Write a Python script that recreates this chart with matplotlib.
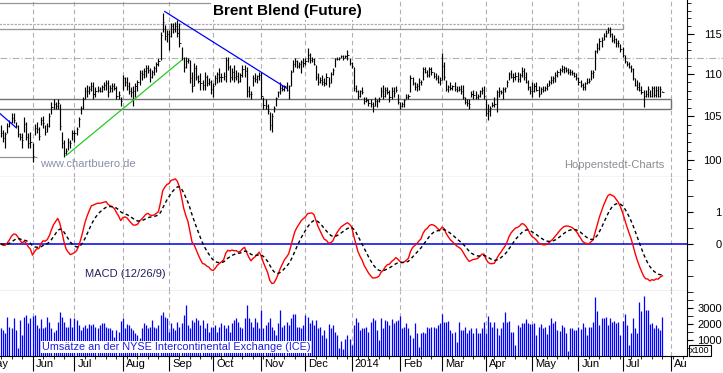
import numpy as np
import pandas as pd
import matplotlib
matplotlib.use("Agg")
import matplotlib.pyplot as plt
from matplotlib.transforms import Bbox, TransformedBbox, ScaledTranslation, blended_transform_factory

plt.rcParams['font.family'] = ['Liberation Sans', 'DejaVu Sans']

START = '2013-05-13'   # erster Handelstag im Chart (Montag)

# ── Tageskurse Brent (High / Low / Close), je Monat eine Zeile ──────────
hi = [
    104.0, 103.4, 103.2, 104.2, 104.5, 105.3, 105.3, 104.3, 104.0, 103.0, 103.0, 104.9, 104.3, 103.0, 103.2,
    101.9, 104.1, 104.3, 103.7, 104.9, 105.0, 104.0, 104.2, 105.3, 106.6, 107.0, 106.6, 107.0, 106.4, 103.2, 102.2, 101.4, 102.5, 102.2, 103.4,
    103.4, 103.7, 104.9, 106.2, 107.3, 108.4, 108.7, 108.5, 109.1, 109.1, 108.4, 108.5, 108.4, 108.7, 109.1, 109.3, 109.3, 108.7, 108.9, 108.9, 108.5, 107.9, 107.3,
    109.9, 109.6, 109.6, 109.1, 108.4, 108.5, 108.9, 109.3, 110.5, 110.5, 110.8, 111.1, 111.1, 110.8, 110.5, 111.0, 111.5, 112.0, 115.3, 117.7, 116.2, 115.5,
    115.5, 116.4, 116.4, 116.5, 116.8, 116.4, 113.4, 112.1, 112.1, 112.0, 111.7, 110.3, 111.4, 111.1, 109.9, 110.1, 109.3, 110.3, 109.9, 109.5, 109.3,
    108.9, 109.9, 110.3, 110.8, 110.1, 110.3, 112.1, 112.1, 111.1, 110.8, 111.1, 110.5, 110.3, 110.1, 111.1, 111.1, 110.9, 108.5, 107.9, 109.9, 110.1, 109.9, 110.3,
    110.3, 107.3, 107.0, 106.4, 105.5, 105.3, 106.2, 107.3, 107.9, 109.1, 108.7, 108.7, 109.1, 108.7, 110.5, 111.7, 112.0, 111.7, 111.5, 111.7, 112.0,
    112.0, 113.2, 112.6, 112.1, 112.0, 111.1, 110.1, 109.6, 109.9, 109.5, 110.1, 109.6, 110.3, 110.8, 112.0, 112.1, 112.1, 112.3, 112.3, 112.3, 113.0, 112.0,
    111.5, 110.9, 108.7, 108.1, 108.1, 108.4, 107.3, 107.3, 107.0, 107.0, 106.7, 107.2, 107.0, 107.2, 108.4, 108.7, 108.4, 108.4, 108.1, 108.4, 108.4, 108.5, 107.6,
    106.6, 106.6, 107.0, 107.6, 107.6, 109.9, 109.6, 109.1, 108.9, 109.5, 109.3, 110.9, 110.9, 110.5, 110.9, 110.9, 110.3, 110.1, 109.9, 109.6,
    112.6, 111.5, 109.3, 108.7, 109.1, 108.7, 109.1, 108.5, 108.5, 108.7, 108.7, 107.3, 107.0, 107.0, 107.9, 108.1, 107.9, 107.6, 108.1, 108.4, 108.5,
    107.0, 106.4, 106.2, 106.6, 107.3, 108.1, 108.4, 108.1, 108.4, 108.4, 109.3, 110.3, 110.5, 110.1, 110.3, 110.3, 110.1, 110.9, 110.8, 110.3, 109.3, 108.6,
    109.1, 108.9, 109.1, 108.5, 108.4, 108.5, 108.5, 108.9, 109.3, 109.8, 109.8, 110.3, 110.5, 110.8, 111.1, 111.0, 110.9, 110.8, 110.6, 110.5, 110.3, 110.1,
    109.6, 109.3, 108.9, 109.1, 109.5, 109.5, 110.5, 110.5, 113.0, 113.9, 114.5, 114.6, 115.1, 115.5, 115.9, 115.9, 115.1, 114.9, 114.5, 114.2, 113.7,
    113.4, 112.3, 111.6, 111.5, 111.1, 110.8, 109.5, 109.3, 109.1, 108.5, 108.1, 108.1, 108.5, 108.1, 108.5, 108.5, 108.5, 108.5, 108.6, 107.9,
]
lo = [
    102.6, 102.0, 101.4, 103.0, 103.7, 104.2, 104.2, 103.6, 102.6, 102.2, 101.4, 103.2, 102.2, 101.4, 101.3,
    99.8, 102.8, 103.0, 102.2, 104.0, 103.6, 102.8, 103.2, 103.7, 105.2, 105.8, 105.8, 105.8, 103.4, 101.4, 100.3, 100.6, 101.1, 101.3, 102.2,
    102.0, 102.8, 103.7, 105.2, 105.8, 107.0, 107.2, 107.6, 107.9, 107.0, 107.3, 107.8, 107.8, 107.8, 108.1, 108.1, 107.2, 107.8, 107.8, 108.1, 107.0, 107.0, 106.2,
    108.1, 108.5, 108.1, 107.6, 107.3, 106.2, 107.3, 107.9, 108.7, 109.3, 109.5, 109.6, 110.1, 109.1, 109.5, 109.9, 110.3, 111.0, 111.7, 115.3, 114.2, 114.0,
    113.0, 114.6, 115.1, 115.2, 114.6, 113.4, 111.7, 110.3, 110.8, 111.4, 108.9, 107.8, 108.5, 109.3, 108.9, 108.1, 108.1, 108.1, 108.5, 108.7, 107.6,
    107.2, 108.7, 108.9, 109.1, 109.1, 109.3, 109.1, 110.5, 109.1, 109.3, 109.1, 109.3, 108.9, 109.1, 109.6, 109.6, 107.3, 107.3, 107.0, 108.5, 109.1, 108.9, 109.3,
    107.0, 105.8, 105.8, 105.2, 103.4, 103.2, 105.5, 106.2, 107.2, 107.6, 107.9, 107.9, 107.9, 107.0, 108.5, 110.3, 110.9, 110.8, 110.8, 110.1, 110.9,
    111.1, 111.5, 111.4, 111.5, 111.1, 109.3, 108.7, 108.9, 108.7, 108.5, 108.7, 108.4, 108.9, 109.9, 110.9, 111.7, 111.7, 112.0, 111.7, 112.0, 111.7, 111.1,
    110.8, 107.9, 107.8, 107.0, 107.3, 107.6, 106.4, 106.6, 106.2, 106.1, 105.5, 106.2, 106.1, 106.6, 107.3, 107.0, 107.3, 107.6, 106.7, 107.0, 107.2, 107.8, 106.4,
    105.8, 106.1, 106.1, 107.0, 107.0, 107.8, 108.7, 108.1, 107.9, 108.1, 108.7, 109.3, 110.1, 109.6, 109.6, 109.9, 109.5, 109.3, 108.9, 108.7,
    109.3, 109.3, 107.9, 107.8, 108.1, 108.1, 107.9, 107.8, 107.9, 107.6, 107.0, 106.4, 106.2, 105.8, 107.2, 107.0, 107.0, 107.0, 107.2, 107.6, 107.0,
    105.0, 104.5, 105.0, 106.1, 106.1, 105.5, 107.3, 107.6, 107.0, 107.8, 108.4, 109.3, 109.5, 109.1, 109.3, 109.1, 109.1, 109.6, 109.3, 108.9, 108.1, 107.6,
    107.2, 107.8, 107.9, 107.3, 107.6, 107.8, 108.0, 108.1, 108.5, 108.8, 108.9, 109.1, 109.6, 109.9, 110.3, 110.1, 110.3, 110.0, 109.9, 109.9, 109.6, 109.3,
    108.7, 108.4, 108.1, 108.1, 108.8, 108.9, 109.3, 109.5, 110.5, 112.6, 113.0, 113.4, 114.2, 114.6, 115.1, 114.6, 114.0, 113.9, 113.4, 113.4, 112.7,
    112.1, 111.4, 111.0, 110.8, 110.3, 109.3, 108.5, 108.1, 107.9, 107.6, 106.1, 107.2, 107.2, 107.2, 107.2, 107.2, 107.3, 107.2, 107.3, 107.8,
]
cl = [
    103.0, 102.5, 102.9, 103.8, 104.3, 104.8, 104.5, 103.9, 102.9, 102.6, 102.2, 104.1, 102.6, 101.9, 102.0,
    100.4, 103.6, 103.5, 102.7, 104.6, 104.2, 103.2, 103.9, 105.0, 106.1, 106.4, 106.2, 106.5, 103.8, 101.9, 100.8, 101.0, 102.0, 101.9, 103.0,
    103.1, 103.5, 104.7, 105.9, 107.0, 108.0, 107.9, 108.2, 108.6, 107.6, 107.9, 108.1, 108.0, 108.4, 108.7, 108.9, 107.8, 108.3, 108.5, 108.3, 107.4, 107.5, 106.8,
    109.5, 109.0, 108.5, 107.9, 107.8, 107.9, 108.6, 109.0, 110.1, 110.0, 110.4, 110.8, 110.5, 109.7, 110.2, 110.7, 111.2, 111.6, 114.9, 116.6, 114.8, 115.0,
    114.8, 116.0, 115.6, 116.0, 115.1, 113.8, 112.0, 110.9, 111.6, 111.7, 109.5, 108.6, 110.8, 109.6, 109.2, 108.9, 108.7, 109.6, 108.9, 109.0, 108.2,
    108.6, 109.5, 110.0, 109.6, 109.7, 109.8, 111.7, 110.9, 109.6, 110.2, 109.6, 109.8, 109.2, 109.9, 110.6, 110.4, 107.9, 107.6, 107.6, 109.5, 109.4, 109.8, 109.9,
    107.4, 106.3, 106.2, 105.6, 104.0, 105.0, 106.0, 107.1, 107.8, 108.3, 108.2, 108.5, 108.1, 108.5, 110.3, 111.2, 111.6, 111.0, 111.2, 111.5, 111.4,
    111.6, 112.4, 111.7, 111.9, 111.3, 109.6, 109.1, 109.3, 109.0, 108.9, 109.7, 108.9, 110.0, 110.5, 111.8, 111.9, 112.0, 112.2, 112.0, 112.2, 112.3, 111.4,
    111.0, 108.3, 108.0, 107.4, 107.9, 107.8, 106.8, 106.9, 106.5, 106.4, 106.2, 106.8, 106.8, 107.0, 108.0, 107.4, 108.1, 107.8, 107.2, 108.0, 107.7, 108.1, 106.7,
    106.2, 106.4, 106.9, 107.3, 107.4, 109.5, 108.9, 108.4, 108.6, 109.0, 109.1, 110.6, 110.3, 109.9, 110.6, 110.2, 109.8, 109.5, 109.1, 109.3,
    111.0, 109.6, 108.2, 108.4, 108.3, 108.5, 108.2, 108.1, 108.2, 108.0, 107.2, 106.7, 106.5, 106.4, 107.6, 107.5, 107.3, 107.4, 107.9, 108.1, 107.4,
    105.3, 105.6, 106.0, 106.3, 106.4, 107.8, 107.9, 107.8, 108.2, 108.3, 109.1, 110.0, 109.7, 109.6, 109.8, 109.4, 109.9, 110.4, 109.6, 109.0, 108.4, 107.9,
    108.0, 108.5, 108.1, 107.6, 108.2, 108.1, 108.3, 108.6, 109.0, 109.3, 109.5, 109.9, 110.2, 110.5, 110.6, 110.7, 110.5, 110.3, 110.2, 110.1, 109.8, 109.5,
    109.0, 108.7, 108.4, 108.9, 109.1, 109.2, 110.1, 110.2, 112.8, 113.2, 114.1, 114.2, 114.8, 115.1, 115.5, 115.0, 114.3, 114.4, 113.8, 113.8, 113.1,
    112.4, 111.6, 111.2, 110.9, 110.6, 109.5, 108.7, 108.4, 108.1, 107.8, 107.4, 107.6, 108.2, 107.4, 108.3, 107.5, 108.1, 107.4, 108.2, 107.8,
]
# Umsätze (in 100 Kontrakten)
vol = [
    1730, 1620, 1420, 2450, 1830, 1730, 2350, 1620, 480, 2250, 1310, 2450, 2560, 2040, 2350,
    2500, 2560, 1940, 1730, 2290, 1730, 1830, 2450, 2150, 1730, 1520, 1620, 2150, 2760, 2450, 2150, 1830, 1830, 2350, 1830,
    2350, 2250, 1940, 1620, 1830, 1940, 1730, 1980, 1940, 1980, 1830, 1730, 1940, 2040, 2040, 1830, 1770, 1730, 1620, 1210, 1620, 1520, 2190,
    2350, 1770, 1980, 1940, 1730, 1620, 1420, 1310, 1100, 1730, 2040, 1940, 1770, 1830, 2250, 1830, 1730, 1940, 2560, 2770, 2460, 2350,
    1520, 2040, 1730, 1620, 2150, 1830, 2040, 2560, 3190, 1940, 1730, 2250, 2150, 2350, 2250, 1940, 2250, 1730, 2040, 1520, 1830,
    1830, 1940, 1520, 1830, 2040, 1940, 1730, 1940, 1520, 2040, 2250, 2350, 2150, 1830, 1730, 2350, 3190, 2350, 2150, 1830, 2350, 2150, 1730,
    2850, 1730, 1940, 2150, 2350, 1830, 1620, 1310, 2040, 2900, 1830, 1940, 2150, 1940, 2350, 2600, 2650, 1830, 1830, 1730, 1940,
    2560, 2460, 2040, 2250, 1940, 2250, 1730, 1830, 1310, 1620, 1100, 1980, 1730, 1940, 1520, 1310, 520, 940, 420, 1040, 1310, 1040,
    690, 1940, 2350, 2150, 1620, 1730, 1730, 1830, 1520, 2150, 2350, 2250, 1620, 1000, 2350, 1730, 2250, 2190, 1940, 2310, 2040, 2190, 2250,
    2500, 1770, 1830, 2040, 1730, 1310, 1100, 2040, 1420, 580, 1420, 1520, 1420, 1830, 1730, 1830, 1830, 1730, 1940, 2040,
    2600, 2150, 2150, 2190, 1620, 1420, 1520, 900, 2150, 1620, 1620, 1830, 1420, 1620, 1730, 1420, 1730, 1420, 1420, 1770, 2150,
    1420, 2500, 2150, 1830, 2100, 1730, 1310, 1730, 2150, 2770, 2150, 2190, 1520, 1520, 690, 1940, 1830, 2040, 2040, 2310, 2040, 1980,
    1980, 2040, 1310, 1830, 1980, 1730, 1830, 1360, 1940, 2350, 2040, 2190, 1620, 1560, 1940, 1830, 1420, 330, 1730, 1730, 1620, 1620,
    1830, 1690, 2040, 1830, 1310, 1830, 1830, 2150, 3660, 2810, 1940, 2350, 2390, 2460, 1940, 2350, 2150, 2190, 2040, 2150, 1310,
    2190, 2600, 1940, 690, 1420, 2350, 1730, 1420, 3400, 2810, 3750, 2870, 2870, 1980, 2040, 1770, 1940, 1770, 1620, 2460,
]
assert len(hi) == len(lo) == len(cl) == len(vol)

month_firsts = ['2013-05-01', '2013-06-01', '2013-07-01', '2013-08-01', '2013-09-01', '2013-10-01',
                '2013-11-01', '2013-12-01', '2014-01-01', '2014-02-01', '2014-03-01', '2014-04-01',
                '2014-05-01', '2014-06-01', '2014-07-01', '2014-08-01']
month_labels = ['May', 'Jun', 'Jul', 'Aug', 'Sep', 'Oct', 'Nov', 'Dec', '2014', 'Feb', 'Mar', 'Apr',
                'May', 'Jun', 'Jul', 'Aug']

# Trendlinien (Datum, Kurs)
down_dates, down_prices = ['2013-08-29', '2013-11-19'], [117.9, 108.3]
up_dates, up_prices = ['2013-06-25', '2013-09-10'], [100.5, 111.7]
old_dates, old_prices = ['2013-05-10', '2013-05-22'], [105.4, 103.7]
# Widerstands-/Unterstützungszonen
zone_hi_top, zone_hi_bot, zone_hi_end = 116.3, 115.6, '2014-07-01'
zone_lo_top, zone_lo_bot, zone_lo_end = 107.0, 105.8, '2014-08-01'
top_line, top_line_end = 119.0, '2013-10-01'
left_line, left_line_end = 100.3, '2013-06-05'
dashdot_level = 112.0


def pos(d):
    return np.busday_count(START, d)


n = len(cl)
x = np.arange(n)
mpos = [int(pos(np.busday_offset(d, 0, roll='forward'))) for d in month_firsts]

close = pd.Series(cl)
macd = close.ewm(span=12, adjust=False).mean() - close.ewm(span=26, adjust=False).mean()
signal = macd.ewm(span=9, adjust=False).mean()

# ── Layout ───────────────────────────────────────────
W, H = 723, 373
fig = plt.figure(figsize=(W / 100, H / 100), dpi=100)
fig.patch.set_facecolor('white')


def panel(top, bottom):
    return fig.add_axes([0, 1 - bottom / H, 687 / W, (bottom - top) / H])


ax = panel(0, 177)
am = panel(177, 291)
av = panel(291, 356)
XL = (-0.48, 326.7)
grid_col = '#b4acb4'

for a in (ax, am, av):
    a.set_xlim(*XL)
    a.set_xticks(mpos[1:])
    a.grid(axis='x', color=grid_col, ls=(0, (4, 3)), lw=0.8)
    a.spines['top'].set_visible(False)
    a.spines['left'].set_visible(False)
    a.spines['right'].set_color('black')
    a.yaxis.tick_right()
    a.tick_params(axis='y', which='both', labelsize=8, colors='black', direction='out')
for a in (ax, am):
    a.tick_params(axis='x', length=0, labelbottom=False)
ax.spines['bottom'].set_color('#606060')

# ── Kurs-Panel ───────────────────────────────────────
ax.set_yscale('log')
ax.set_ylim(98.14, 119.42)
ax.set_yticks([100, 105, 110, 115], labels=['100', '105', '110', '115'])
ax.set_yticks([v for v in range(99, 120) if v % 5], minor=True)
ax.yaxis.set_minor_formatter(matplotlib.ticker.NullFormatter())
ax.tick_params(axis='y', which='major', length=5, pad=20)
ax.tick_params(axis='y', which='minor', length=3)

ax.axhline(dashdot_level, xmax=W / 687, color='#a8b4a8', lw=0.8, ls=(0, (6, 2, 1, 2)), clip_on=False)
x0 = XL[0] - 1
ax.hlines(zone_hi_top, x0, pos(zone_hi_end), color='#b0a8b8', lw=0.9, ls=(0, (2, 1)))
ax.hlines(zone_hi_bot, x0, pos(zone_hi_end), color='#959595', lw=0.9)
ax.vlines(pos(zone_hi_end), zone_hi_bot, zone_hi_top, color='#959595', lw=0.9)
ax.hlines([zone_lo_top, zone_lo_bot], x0, pos(zone_lo_end), color='#707070', lw=1.0)
ax.vlines(pos(zone_lo_end), zone_lo_bot, zone_lo_top, color='#707070', lw=1.0)
ax.hlines(top_line, x0, pos(top_line_end), color='#959595', lw=0.9)
ax.hlines(left_line, x0, pos(left_line_end), color='#959595', lw=0.9)

ax.vlines(x, lo, hi, color='black', lw=0.85)
ax.hlines(cl, x, x + 0.55, color='black', lw=0.6)

ax.plot([pos(d) for d in down_dates], down_prices, color='#0000ff', lw=0.9)
ax.plot([pos(d) for d in old_dates], old_prices, color='#0000ff', lw=0.9)
ax.plot([pos(d) for d in up_dates], up_prices, color='#22cc22', lw=0.9)

ax.text(0.419, 0.937, 'Brent Blend (Future)', transform=ax.transAxes, ha='center', va='center',
        fontsize=11, fontweight='bold', bbox=dict(fc='white', ec='none', pad=1.5))
ax.text(0.058, 0.073, 'www.chartbuero.de', transform=ax.transAxes, color='#8890a8', fontsize=8, va='center')
ax.text(0.9665, 0.068, 'Hoppenstedt-Charts', transform=ax.transAxes, color='#8c8c94', fontsize=8,
        ha='right', va='center')

# ── MACD-Panel ───────────────────────────────────────
am.set_ylim(-1.469, 2.094)
am.axhline(0, color='#0000e0', lw=1.1)
am.plot(x, macd, color='#ff0000', lw=1.0)
am.plot(x, signal, color='black', lw=1.0, ls=(0, (2.5, 2)))
am.set_yticks([0, 1], labels=['0', '1'])
am.set_yticks([-1, -0.5, 0.5, 1.5, 2], minor=True)
am.tick_params(axis='y', which='both', length=4)
am.tick_params(axis='y', which='major', pad=21)
am.text(0.124, 0.149, 'MACD (12/26/9)', transform=am.transAxes, color='#202060', fontsize=8, va='center')

# ── Umsatz-Panel ─────────────────────────────────────
av.set_ylim(0, 4062)
av.vlines(x, 0, vol, color='#0000ff', lw=0.9)
av.set_yticks([1000, 2000, 3000], labels=['1000', '2000', '3000'])
av.set_yticks([500, 1500, 2500, 3500, 4000], minor=True)
av.tick_params(axis='y', which='both', length=4)
av.tick_params(axis='y', which='major', pad=21)
av.text(0.061, 0.14, 'Umsätze an der NYSE Intercontinental Exchange (ICE)', transform=av.transAxes,
        color='#2020e0', fontsize=7.8, va='center', bbox=dict(fc='white', ec='none', pad=0.8))
fig.text(700 / W, 1 - 350.5 / H, 'x100', fontsize=6.5, ha='center', va='center',
         bbox=dict(boxstyle='square,pad=0.12', fc='white', ec='black', lw=0.8))

for a in (ax, am, av):
    for lab in a.get_yticklabels():
        lab.set_horizontalalignment('right')

av.set_xticklabels(month_labels[1:])
av.set_xticks(np.arange(0, XL[1], 5), minor=True)
av.tick_params(axis='x', which='major', length=11, width=0.8, pad=-8.6, labelsize=8)
av.tick_params(axis='x', which='minor', length=2.5, width=0.6)

clip = TransformedBbox(Bbox([[0, 0], [687 / W, 1]]), fig.transFigure)
shift = ScaledTranslation(3 / 100, 0, fig.dpi_scale_trans)
for lab in av.get_xticklabels():
    lab.set_horizontalalignment('left')
    lab.set_transform(lab.get_transform() + shift)
    lab.set_clip_box(clip)
    lab.set_clip_on(True)

# "May" liegt vor dem ersten Balken und wird, wie im Original, angeschnitten
trans = blended_transform_factory(av.transData, av.transAxes) + ScaledTranslation(3 / 100, -3 / 100, fig.dpi_scale_trans)
t = av.text(mpos[0], 0, month_labels[0], transform=trans, ha='left', va='top', fontsize=8)
t.set_clip_path(None)
t.set_clip_box(clip)
t.set_clip_on(True)
av.set_xlim(*XL)
av.set_ylim(0, 4062)

fig.savefig('out.png', dpi=100)
